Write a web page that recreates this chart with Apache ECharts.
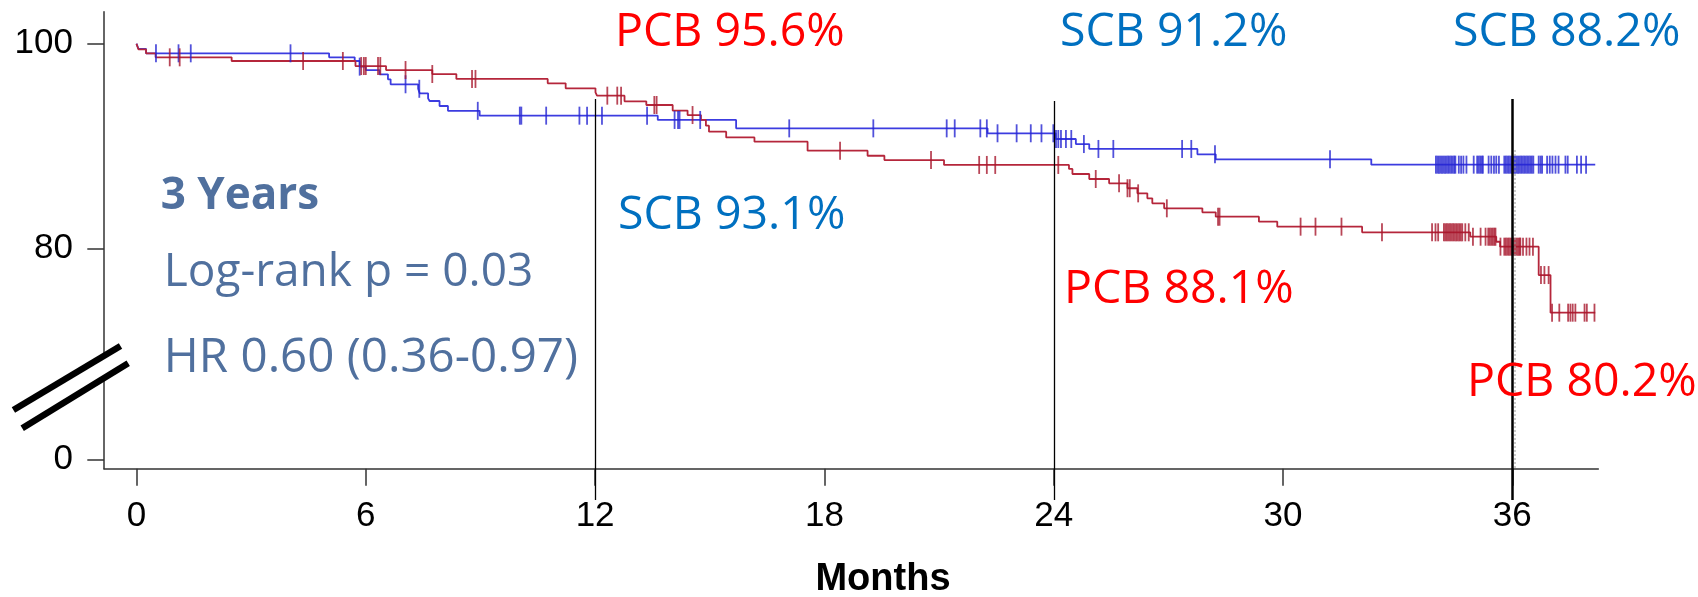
<!DOCTYPE html>
<html>
<head>
<meta charset="utf-8">
<script src="https://cdn.jsdelivr.net/npm/echarts@6/dist/echarts.min.js"></script>
<style>
html,body{margin:0;padding:0;background:#fff;}
#chart{width:1698px;height:597px;}
</style>
</head>
<body>
<div id="chart"></div>
<script>
// ---------------- DATA ----------------
// Kaplan-Meier step curves: time (months) at which the survival level becomes the given value
const scbTimes = [0, 0.05, 0.25, 5.04, 5.71, 5.84, 6.0, 6.36, 6.58, 6.65, 7.37, 7.41, 7.63, 7.67, 7.93, 8.15, 8.98, 13.64, 15.69, 22.27, 24.05, 24.58, 24.93, 27.76, 28.24, 32.31];
const scbSurv  = [100, 99.5, 99.06, 98.67, 98.31, 97.76, 97.43, 97.01, 96.52, 96.04, 95.6, 95.16, 94.67, 94.41, 93.92, 93.45, 92.98, 92.56, 91.74, 91.26, 90.7, 90.21, 89.73, 89.21, 88.72, 88.2];
const scbEnd = 38.17;

const pcbTimes = [0, 0.05, 0.25, 0.5, 2.49, 5.73, 6.53, 7.74, 8.37, 10.76, 11.23, 12.01, 12.05, 12.77, 13.34, 14.03, 14.42, 14.77, 14.9, 14.98, 15.43, 16.17, 17.56, 19.13, 19.57, 21.13, 24.4, 24.49, 24.93, 25.45, 25.93, 26.19, 26.45, 26.58, 26.89, 27.89, 28.24, 29.37, 29.85, 32.07, 34.9, 35.58, 35.68, 36.69, 37.0];
const pcbSurv  = [100, 99.45, 99.06, 98.67, 98.31, 97.82, 97.43, 97.04, 96.56, 96.13, 95.65, 95.26, 94.93, 94.38, 94.02, 93.47, 93.04, 92.56, 92.0, 91.42, 90.86, 90.44, 89.56, 89.07, 88.65, 88.17, 87.78, 87.29, 86.8, 86.38, 85.9, 85.4, 84.91, 84.43, 83.94, 83.55, 83.12, 82.64, 82.15, 81.6, 81.17, 80.68, 80.2, 77.43, 73.76];
const pcbEnd = 38.17;

// Censoring times (months)
const scbCensor = [0.51, 1.1, 1.42, 4.03, 5.84, 7.04, 7.4, 8.93, 10.03, 10.07, 10.72, 11.59, 11.79, 12.18, 13.36, 14.08, 14.17, 14.21, 14.75,
  17.08, 19.28, 21.2, 21.41, 22.08, 22.25, 22.53, 23.03, 23.4, 23.68, 23.99, 24.06, 24.12, 24.19, 24.32, 24.46, 24.79, 25.17, 25.56,
  27.36, 27.6, 28.22, 31.23,
  34.0, 34.04, 34.08, 34.12, 34.16, 34.2, 34.24, 34.28, 34.32, 34.36, 34.4, 34.44, 34.48, 34.51,
  34.6, 34.66, 34.72, 34.8, 34.99, 35.08, 35.12, 35.16, 35.2, 35.23, 35.38, 35.45, 35.52, 35.58, 35.65,
  35.79, 35.83, 35.87, 35.91, 35.95, 35.99, 36.03, 36.07, 36.11, 36.15, 36.19, 36.23, 36.27, 36.31, 36.35, 36.39, 36.43, 36.47, 36.51, 36.55,
  36.69, 36.74, 36.78, 36.91, 36.98, 37.05, 37.13, 37.21, 37.39, 37.45, 37.69, 37.8, 37.93];
const pcbCensor = [0.87, 1.13, 4.36, 5.4, 5.88, 5.95, 6.0, 6.32, 6.38, 7.04, 7.74, 8.78, 8.87, 12.32, 12.58, 12.68, 13.55, 13.61, 14.55,
  18.41, 20.79, 22.05, 22.25, 22.47, 24.12, 25.1, 25.71, 25.93, 25.99, 26.21, 26.96, 28.3, 28.34, 30.46, 30.85, 31.53, 32.59,
  33.9, 33.99, 34.06, 34.21, 34.25, 34.29, 34.33, 34.37, 34.41, 34.45, 34.49, 34.53, 34.57, 34.61, 34.65, 34.69,
  34.77, 34.86, 34.97, 35.17, 35.3, 35.37, 35.41, 35.45, 35.49, 35.53, 35.56, 35.69,
  35.79, 35.83, 35.87, 35.91, 35.95, 35.99, 36.03, 36.07, 36.11, 36.15, 36.19, 36.21, 36.28, 36.37, 36.45, 36.54,
  36.75, 36.84, 36.95, 37.04, 37.23, 37.46, 37.52, 37.58, 37.65, 37.89, 37.95, 38.15];

// Axis ticks
const xTicks = [0, 6, 12, 18, 24, 30, 36];
const yTicks = [0, 80, 100];
const landmarks = [12, 24, 36];

// Annotation texts
const pcbNotes = ['PCB 95.6%', 'PCB 88.1%', 'PCB 80.2%'];
const scbNotes = ['SCB 93.1%', 'SCB 91.2%', 'SCB 88.2%'];
const statTitle = '3 Years';
const statLines = ['Log-rank p = 0.03', 'HR 0.60 (0.36-0.97)'];
const xName = 'Months';

// ---------------- helpers ----------------
const BREAK_ZERO_AT = 59.45; // axis position where the broken-axis "0" sits
function yPos(v) { return v === 0 ? BREAK_ZERO_AT : v; }
function stepPoints(times, surv, end) {
  const pts = times.map((t, i) => [t, surv[i]]);
  pts.push([end, surv[surv.length - 1]]);
  return pts;
}
function levelAt(times, surv, t) {
  let v = surv[0];
  for (let i = 0; i < times.length; i++) { if (times[i] <= t) v = surv[i]; else break; }
  return v;
}

const BLUE_LINE = '#3C3CE0', BLUE_MARK = '#2626D2';
const RED_LINE = '#B5263B', RED_MARK = '#A8182D';
const TXT_RED = '#FF0000', TXT_BLUE = '#0070C0', TXT_STAT = '#50709E';

const chart = echarts.init(document.getElementById('chart'), null, {renderer: 'canvas'});
const axisFont = '"Liberation Sans", Arial, sans-serif';

const option = {
  animation: false,
  backgroundColor: '#fff',
  grid: {left: 104, right: 99.7, top: 11.7, bottom: 128.3, containLabel: false},
  xAxis: {
    type: 'value', min: -0.85, max: 38.25,
    axisLine: {show: true, onZero: false, lineStyle: {color: '#333', width: 1.5}},
    axisTick: {show: true, length: 17, customValues: xTicks, lineStyle: {color: '#333', width: 1.5}},
    axisLabel: {customValues: xTicks, fontSize: 35, fontFamily: axisFont, color: '#000', margin: 30},
    splitLine: {show: false}
  },
  yAxis: {
    type: 'value', min: 58.54, max: 103.12,
    axisLine: {show: true, onZero: false, lineStyle: {color: '#333', width: 1.5}},
    axisTick: {show: true, length: 16.7, customValues: yTicks.map(yPos), lineStyle: {color: '#333', width: 1.5}},
    axisLabel: {
      customValues: yTicks.map(yPos), fontSize: 35, fontFamily: axisFont, color: '#000', margin: 31,
      formatter: v => (Math.abs(v - BREAK_ZERO_AT) < 0.01 ? '0' : String(Math.round(v)))
    },
    splitLine: {show: false}
  },
  series: [
    {type: 'line', name: 'SCB', step: 'end', showSymbol: false, data: stepPoints(scbTimes, scbSurv, scbEnd),
     lineStyle: {color: BLUE_LINE, width: 1.8}, z: 3},
    {type: 'line', name: 'PCB', step: 'end', showSymbol: false, data: stepPoints(pcbTimes, pcbSurv, pcbEnd),
     lineStyle: {color: RED_LINE, width: 1.8}, z: 3},
    {type: 'scatter', name: 'SCB censored', symbol: 'rect', symbolSize: [1.8, 18],
     data: scbCensor.map(t => [t, levelAt(scbTimes, scbSurv, t)]), itemStyle: {color: BLUE_MARK}, z: 4},
    {type: 'scatter', name: 'PCB censored', symbol: 'rect', symbolSize: [1.8, 18],
     data: pcbCensor.map(t => [t, levelAt(pcbTimes, pcbSurv, t)]), itemStyle: {color: RED_MARK}, z: 4}
  ]
};
chart.setOption(option);

// ---------------- decorations ----------------
const px = t => chart.convertToPixel({xAxisIndex: 0}, t);
const g = [];
// landmark vertical lines
landmarks.forEach((m, i) => {
  const x = Math.round(px(m)) + 0.5;
  g.push({type: 'line', shape: {x1: x, y1: i === 1 ? 101 : 99, x2: x, y2: 500},
          style: {stroke: '#000', lineWidth: i === 2 ? 2.5 : 1.3}, z: 10});
});
// faint dotted line next to 36
g.push({type: 'line', shape: {x1: Math.round(px(36)) + 3, y1: 150, x2: Math.round(px(36)) + 3, y2: 470},
        style: {stroke: '#999', lineWidth: 1, lineDash: [2, 2]}, z: 9});
// axis break symbol
g.push({type: 'line', shape: {x1: 14, y1: 421, x2: 128, y2: 353}, style: {stroke: '#fff', lineWidth: 16}, z: 20});
g.push({type: 'line', shape: {x1: 13.4, y1: 410, x2: 120.5, y2: 346}, style: {stroke: '#000', lineWidth: 6.5}, z: 21});
g.push({type: 'line', shape: {x1: 22.2, y1: 428.3, x2: 128.2, y2: 363.3}, style: {stroke: '#000', lineWidth: 6.5}, z: 21});

function txt(text, x, y, color, size, weight, family, align) {
  return {type: 'text', x: x, y: y, z: 30,
    style: {text: text, fill: color, font: (weight || 'normal') + ' ' + size + 'px ' + family,
            align: align || 'left', verticalAlign: 'middle'}};
}
const annFont = '"Open Sans", "Noto Sans", sans-serif';
g.push(txt(pcbNotes[0], 615, 33, TXT_RED, 46.5, 'normal', annFont));
g.push(txt(scbNotes[0], 618, 215.5, TXT_BLUE, 46.5, 'normal', annFont));
g.push(txt(scbNotes[1], 1060, 33, TXT_BLUE, 46.5, 'normal', annFont));
g.push(txt(pcbNotes[1], 1064, 289.5, TXT_RED, 46.5, 'normal', annFont));
g.push(txt(scbNotes[2], 1453, 33, TXT_BLUE, 46.5, 'normal', annFont));
g.push(txt(pcbNotes[2], 1467, 383, TXT_RED, 46.5, 'normal', annFont));
g.push(txt(statTitle, 160.7, 196.5, TXT_STAT, 44, 'bold', annFont));
g.push(txt(statLines[0], 163.8, 273, TXT_STAT, 46, 'normal', annFont));
g.push(txt(statLines[1], 163.8, 358, TXT_STAT, 47.5, 'normal', annFont));
g.push(txt(xName, 883, 580, '#000', 38, 'bold', axisFont, 'center'));

chart.setOption({graphic: g});
</script>
</body>
</html>
